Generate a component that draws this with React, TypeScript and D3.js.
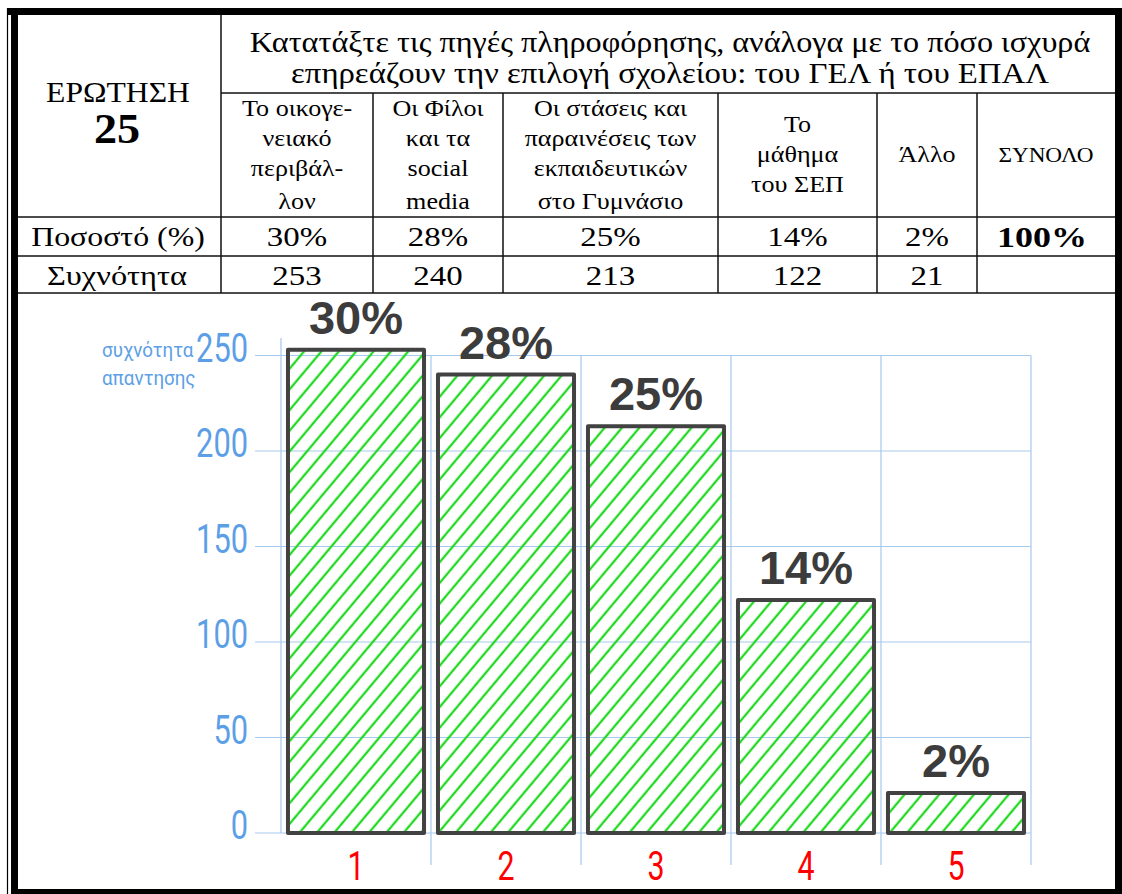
import React from 'react';
import * as d3 from 'd3';

// table / chart data
const questionNo = '25';
const titleLines = [
  'Κατατάξτε τις πηγές πληροφόρησης,  ανάλογα με το πόσο ισχυρά',
  'επηρεάζουν την επιλογή σχολείου:  του ΓΕΛ ή του ΕΠΑΛ'
];
const headerCells = [
  ['Το οικογε-', 'νειακό', 'περιβάλ-', 'λον'],
  ['Οι Φίλοι', 'και τα', 'social', 'media'],
  ['Οι  στάσεις και', 'παραινέσεις των', 'εκπαιδευτικών', 'στο Γυμνάσιο'],
  ['Το', 'μάθημα', 'του ΣΕΠ'],
  ['Άλλο'],
  ['ΣΥΝΟΛΟ']
];
const percentLabels = ['30%', '28%', '25%', '14%', '2%'];
const totalLabel = '100%';
const frequencies = [253, 240, 213, 122, 21];
const categories = ['1', '2', '3', '4', '5'];
const yTicks = [0, 50, 100, 150, 200, 250];
const yTitle = ['συχνότητα', 'απαντησης'];

const W = 1122;
const H = 894;

// table geometry
const colEdges = [17, 221, 373, 503, 718, 877, 977, 1115];
const rowLines = [93, 217, 256, 293];
const serif = '"Liberation Serif", "Times New Roman", serif';
const sans = '"Liberation Sans", Arial, sans-serif';
const blue = '#5d9fe6';
const grid = '#a6c9ee';

// text that is a bit wider than the font gives (the scanned table is stretched)
const SText = ({ x, y, sx, children, ...rest }: any) => (
  <text transform={`translate(${x},${y}) scale(${sx},1)`} {...rest}>{children}</text>
);

const App = () => {
  const y = d3.scaleLinear().domain([0, 250]).range([833, 355.5]);
  const x = d3.scaleBand<string>()
    .domain(categories)
    .range([281, 1031])
    .paddingInner(0.093)
    .paddingOuter(0.0465);
  const step = x.step();
  const gridX = d3.range(categories.length + 1).map(i => 281 + i * step);

  const colCenter = (i: number) => (colEdges[i] + colEdges[i + 1]) / 2;

  return (
    <svg width={W} height={H} style={{ position: 'absolute', left: 0, top: 0, background: '#fff' }}>
      <defs>
        <pattern id="hatch" patternUnits="userSpaceOnUse" width={13.3} height={20}
          patternTransform="rotate(40)">
          <line x1={6.6} y1={0} x2={6.6} y2={20} stroke="#22d822" strokeWidth={2.3} />
        </pattern>
      </defs>
      <rect x={0} y={0} width={W} height={H} fill="#fff" />

      {/* table grid */}
      <g stroke="#111" strokeWidth={1.5}>
        <line x1={colEdges[1]} x2={colEdges[7]} y1={rowLines[0]} y2={rowLines[0]} />
        {rowLines.slice(1).map(r => (
          <line key={r} x1={colEdges[0]} x2={colEdges[7]} y1={r} y2={r} />
        ))}
        <line x1={colEdges[1]} x2={colEdges[1]} y1={15} y2={rowLines[3]} />
        {colEdges.slice(2, 7).map(c => (
          <line key={c} x1={c} x2={c} y1={rowLines[0]} y2={rowLines[3]} />
        ))}
      </g>

      {/* table text */}
      <g fontFamily={serif} fill="#000" textAnchor="middle">
        <SText x={118} y={102} sx={1.11} fontSize={28.5}>ΕΡΩΤΗΣΗ</SText>
        <SText x={117} y={143} sx={1.1} fontSize={42} fontWeight="bold">{questionNo}</SText>
        {titleLines.map((t, i) => (
          <SText key={t} x={670} y={52 + i * 31} sx={i === 0 ? 1.13 : 1.15} fontSize={28.5}>{t}</SText>
        ))}
        {headerCells.map((lines, i) => {
          const fs = i === 5 ? 20 : 22.5;
          const lh = 30;
          const base = lines.length === 4
            ? [116, 146, 176, 209]
            : lines.map((_, j) => 162 - ((lines.length - 1) * lh) / 2 + j * lh);
          return lines.map((l, j) => (
            <SText key={`${i}-${j}`} x={colCenter(i + 1)} y={base[j]} sx={1.16} fontSize={fs}>{l}</SText>
          ));
        })}
        <SText x={118} y={246} sx={1.18} fontSize={27}>Ποσοστό (%)</SText>
        <SText x={117} y={285} sx={1.2} fontSize={27}>Συχνότητα</SText>
        {percentLabels.map((p, i) => (
          <SText key={p} x={colCenter(i + 1)} y={246} sx={1.22} fontSize={27}>{p}</SText>
        ))}
        <SText x={1042} y={247} sx={1.2} fontSize={30} fontWeight="bold">{totalLabel}</SText>
        {frequencies.map((f, i) => (
          <SText key={i} x={colCenter(i + 1)} y={285} sx={1.22} fontSize={27}>{f}</SText>
        ))}
      </g>

      {/* gridlines */}
      <g stroke={grid} strokeWidth={1.2}>
        {yTicks.map(t => (
          <line key={t} x1={255} x2={1031} y1={y(t)} y2={y(t)} />
        ))}
        {gridX.map((gx, i) => (
          <line key={i} x1={gx} x2={gx} y1={i === 0 ? 338 : y(250)} y2={i === 0 ? y(0) : 865} />
        ))}
      </g>

      {/* y tick labels */}
      <g fill={blue} fontFamily="Roboto, Arial, sans-serif" fontSize={40}>
        {yTicks.map(t => (
          <g key={t} transform={`translate(248,${y(t) + 6}) scale(0.77,1)`}>
            <text textAnchor="end">{t}</text>
          </g>
        ))}
        {yTitle.map((l, i) => (
          <g key={l} transform={`translate(102,${357 + i * 28}) scale(0.94,1)`}>
            <text fontSize={20}>{l}</text>
          </g>
        ))}
      </g>

      {/* bars */}
      {frequencies.map((f, i) => {
        const bx = x(categories[i]) as number;
        return (
          <g key={i}>
            <rect x={bx} y={y(f)} width={x.bandwidth()} height={y(0) - y(f)}
              fill="url(#hatch)" stroke="#424242" strokeWidth={4} strokeLinejoin="round" />
            <text x={bx + x.bandwidth() / 2} y={y(f) - 16} textAnchor="middle"
              fontFamily={sans} fontWeight="bold" fontSize={47} fill="#3c3c3c">
              {percentLabels[i]}
            </text>
          </g>
        );
      })}

      {/* x labels */}
      <g fill="#ff0000" fontFamily="Roboto, Arial, sans-serif" fontSize={40}>
        {categories.map(c => (
          <g key={c} transform={`translate(${(x(c) as number) + x.bandwidth() / 2},880) scale(0.76,1)`}>
            <text textAnchor="middle">{c}</text>
          </g>
        ))}
      </g>

      {/* outer frame */}
      <g fill="#000">
        <rect x={8} y={8} width={W - 8} height={7} />
        <rect x={11} y={8} width={7} height={H - 8} />
        <rect x={1115} y={8} width={7} height={H - 8} />
        <rect x={11} y={889} width={W - 11} height={5} />
      </g>
      <line x1={7.5} x2={7.5} y1={8} y2={H} stroke="#000" strokeWidth={1.2} />
    </svg>
  );
};

export default App;
